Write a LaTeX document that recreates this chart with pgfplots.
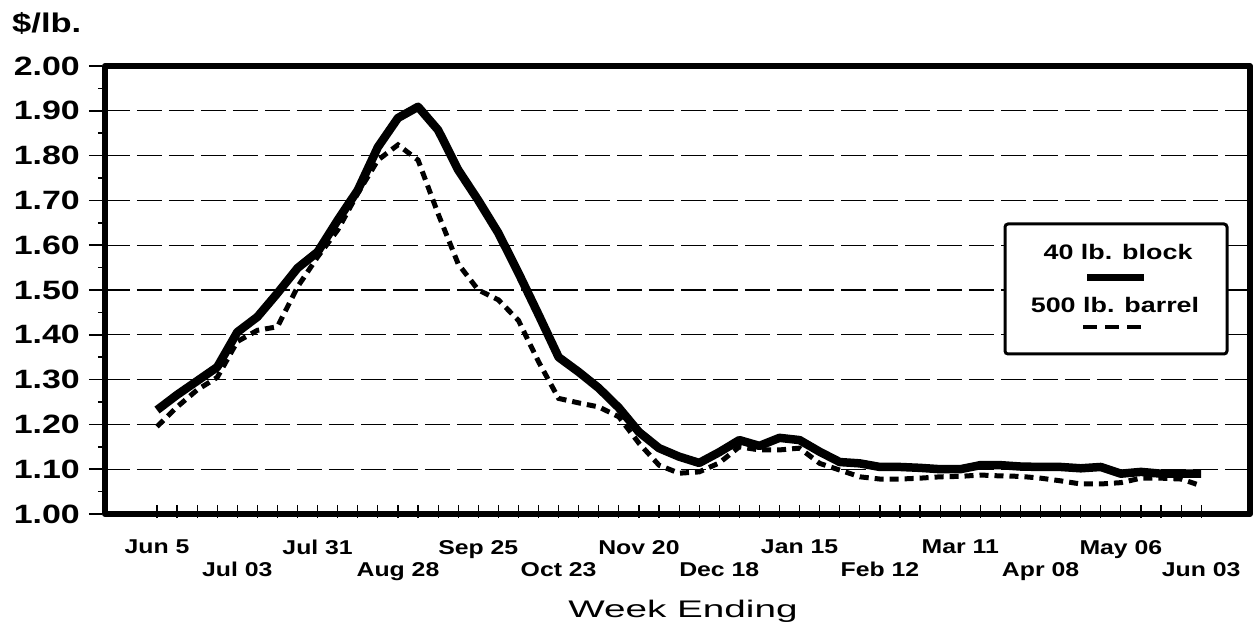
\documentclass[border=0pt]{standalone}
\usepackage{pgfplots}
\pgfplotsset{compat=1.18}
\usepackage{pgfplotstable}
\usepackage{fontspec}
\setmainfont{Liberation Sans}
\newfontfamily\tickfont{Liberation Sans}[FakeStretch=1.28]
\newfontfamily\xtickfont{Liberation Sans}[FakeStretch=1.24]
\newfontfamily\titlefont{Liberation Sans}[FakeStretch=1.61]
\newcommand{\lowrow}[1]{\vphantom{J}\\#1}
\pgfplotstableread{
i block barrel
0 1.232 1.195
1 1.266 1.239
2 1.297 1.277
3 1.328 1.305
4 1.406 1.385
5 1.440 1.410
6 1.493 1.418
7 1.549 1.507
8 1.585 1.574
9 1.656 1.634
10 1.723 1.716
11 1.819 1.790
12 1.884 1.824
13 1.909 1.790
14 1.857 1.670
15 1.768 1.558
16 1.700 1.500
17 1.627 1.478
18 1.538 1.432
19 1.445 1.340
20 1.350 1.258
21 1.317 1.248
22 1.281 1.239
23 1.237 1.217
24 1.183 1.158
25 1.147 1.109
26 1.128 1.091
27 1.114 1.094
28 1.138 1.114
29 1.165 1.150
30 1.152 1.143
31 1.170 1.143
32 1.165 1.147
33 1.139 1.113
34 1.116 1.098
35 1.113 1.083
36 1.105 1.078
37 1.105 1.078
38 1.103 1.080
39 1.100 1.083
40 1.100 1.084
41 1.109 1.087
42 1.109 1.085
43 1.106 1.084
44 1.105 1.080
45 1.105 1.074
46 1.102 1.067
47 1.105 1.067
48 1.090 1.070
49 1.094 1.080
50 1.090 1.080
51 1.090 1.078
52 1.090 1.063
}\data
\begin{document}
\begin{tikzpicture}
\useasboundingbox (-105pt,-110pt) rectangle (1149pt,514pt);
\begin{axis}[
  scale only axis, width=1145pt, height=448pt,
  xmin=-2.59, xmax=54.43, ymin=1, ymax=2,
  axis line style={line width=6pt, line cap=round, line join=round},
  tick align=inside, tick pos=left,
  major tick length=13pt, minor tick length=7pt,
  xtick={0,...,52},
  xticklabels={Jun 5,,,,\lowrow{Jul 03},,,,Jul 31,,,,\lowrow{Aug 28},,,,Sep 25,,,,\lowrow{Oct 23},,,,Nov 20,,,,\lowrow{Dec 18},,,,Jan 15,,,,\lowrow{Feb 12},,,,Mar 11,,,,\lowrow{Apr 08},,,,May 06,,,,\lowrow{Jun 03}},
  major x tick style={black, line width=1.2pt, yshift=-4pt},
  major y tick style={black, line width=1.5pt, xshift=-16pt},
  minor y tick style={black, line width=1.5pt, xshift=-7pt},
  ytick={1.0,1.1,1.2,1.3,1.4,1.5,1.6,1.7,1.8,1.9,2.0},
  yticklabels={1.00,1.10,1.20,1.30,1.40,1.50,1.60,1.70,1.80,1.90,2.00},
  minor ytick={1.05,1.15,1.25,1.35,1.45,1.55,1.65,1.75,1.85,1.95},
  ymajorgrids, grid style={black, line width=1.2pt, dash pattern=on 25pt off 7pt},
  yticklabel style={font=\tickfont\bfseries\fontsize{26.5}{26.5}\selectfont, anchor=east, inner sep=0pt, xshift=-25pt},
  xticklabel style={font=\xtickfont\bfseries\fontsize{20}{23}\selectfont, anchor=north, inner sep=0pt, yshift=-26pt, align=center},
]
\addplot[black, line width=8.5pt, line join=round] table[x=i,y=block]{\data};
\addplot[black, line width=5pt, dash pattern=on 9pt off 6pt] table[x=i,y=barrel]{\data};
\end{axis}
\draw[line width=3pt, rounded corners=3pt, fill=white] (900pt,160pt) rectangle (1122pt,290pt);
\node[anchor=base, inner sep=0pt, font=\tickfont\bfseries\fontsize{21}{21}\selectfont] at (1013pt,254pt) {40 lb. block};
\fill (982pt,232.5pt) rectangle (1039pt,239.5pt);
\node[anchor=base, inner sep=0pt, font=\tickfont\bfseries\fontsize{21}{21}\selectfont] at (1010pt,201pt) {500 lb. barrel};
\draw[line width=4pt, dash pattern=on 14pt off 8pt] (978pt,187pt) -- (1042pt,187pt);
\node[anchor=base west, inner sep=0pt, font=\tickfont\bfseries\fontsize{27}{27}\selectfont] at (-93pt,481pt) {\$/lb.};
\node[anchor=base, inner sep=0pt, font=\titlefont\fontsize{24}{24}\selectfont] at (578pt,-103pt) {Week Ending};
\end{tikzpicture}
\end{document}
